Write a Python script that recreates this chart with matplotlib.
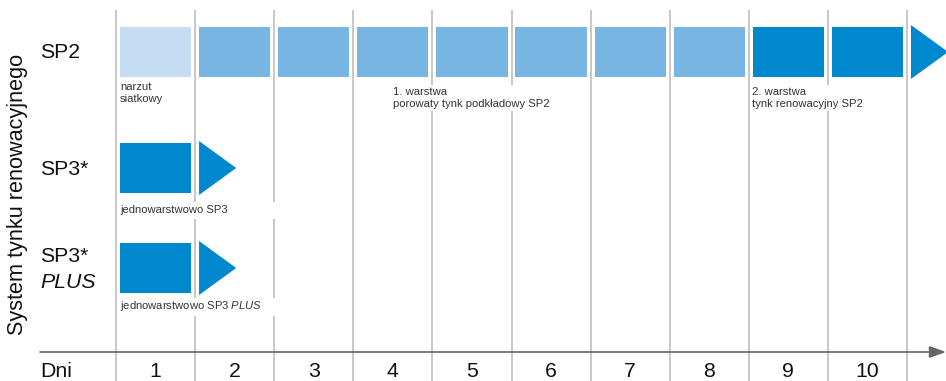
import matplotlib.pyplot as plt
from matplotlib.patches import Rectangle

plt.rcParams['font.family'] = ['Liberation Sans', 'DejaVu Sans']
plt.rcParams['mathtext.fontset'] = 'custom'
plt.rcParams['mathtext.rm'] = 'Liberation Sans'
plt.rcParams['mathtext.it'] = 'Liberation Sans:italic'

# data
days = [1, 2, 3, 4, 5, 6, 7, 8, 9, 10]
sp2_stage = ['narzut', 'w1', 'w1', 'w1', 'w1', 'w1', 'w1', 'w1', 'w2', 'w2']
sp3_days = [1]
sp3_plus_days = [1]
sp2_continues_after = 10
sp3_continues_after = 1
sp3_plus_continues_after = 1
ylabel = 'System tynku renowacyjnego'
xlabel = 'Dni'

stage_colors = {'narzut': '#C6DCF2', 'w1': '#79B5E2', 'w2': '#0088CF'}
dark = '#0088CF'

# pixel-based layout helpers
PX_DAY = 79.1
X0 = 116


def px(x):
    return (x - X0) / PX_DAY


fig = plt.figure(figsize=(9.46, 3.81), dpi=100)
ax = fig.add_axes([0, 0, 1, 1])
ax.set_xlim(px(0), px(946))
ax.set_ylim(381, 0)
ax.axis('off')

row_y = {'SP2': 52, 'SP3': 168, 'PLUS': 268}
bar_h = 50
half_arrow = 27

# vertical day grid
ax.vlines(range(0, 11), 10, 381, color='#BDBDBD', lw=1.2, zorder=1)


def draw_bars(day_list, colors, yc):
    lefts = [d - 1 + 0.05 for d in day_list]
    ax.barh([yc] * len(day_list), [0.9] * len(day_list), left=lefts,
            height=bar_h, color=colors, zorder=3)


def draw_arrow(after_day, yc):
    x0 = after_day + 0.05
    ax.fill([x0, x0, after_day + 0.52], [yc - half_arrow, yc + half_arrow, yc],
            color=dark, lw=0, zorder=3)


draw_bars(days, [stage_colors[s] for s in sp2_stage], row_y['SP2'])
draw_arrow(sp2_continues_after, row_y['SP2'])
draw_bars(sp3_days, [dark], row_y['SP3'])
draw_arrow(sp3_continues_after, row_y['SP3'])
draw_bars(sp3_plus_days, [dark], row_y['PLUS'])
draw_arrow(sp3_plus_continues_after, row_y['PLUS'])

# row labels
big = 15.3
ax.text(px(40), 58, 'SP2', fontsize=big, va='baseline', color='#111')
ax.text(px(40), 175, 'SP3*', fontsize=big, va='baseline', color='#111')
ax.text(px(40), 262, 'SP3*', fontsize=big, va='baseline', color='#111')
ax.text(px(40), 288, 'PLUS', fontsize=big, va='baseline', style='italic', color='#111')
ax.text(px(18), 194, ylabel, fontsize=15.6, rotation=90, ha='center', va='center', color='#111')

# small annotations
small = 8.1
box = dict(fc='white', ec='none', pad=1.2)
ax.text(px(120), 82, 'narzut\nsiatkowy', fontsize=small, va='top', color='#333',
        linespacing=1.25, bbox=box, zorder=2)
ax.text(px(393), 87, '1. warstwa\nporowaty tynk podkładowy SP2', fontsize=small,
        va='top', color='#333', linespacing=1.25, bbox=box, zorder=2)
ax.text(px(752), 87, '2. warstwa\ntynk renowacyjny SP2', fontsize=small,
        va='top', color='#333', linespacing=1.25, bbox=box, zorder=2)

ax.add_patch(Rectangle((px(118), 202), px(290) - px(118), 17, fc='white', ec='none', zorder=2))
ax.add_patch(Rectangle((px(118), 298), px(290) - px(118), 18, fc='white', ec='none', zorder=2))
ax.text(px(120), 213, 'jednowarstwowo SP3', fontsize=small, va='baseline', color='#333', zorder=3)
ax.text(px(120), 309, 'jednowarstwowo SP3 $PLUS$', fontsize=small, va='baseline',
        color='#333', zorder=3)

# bottom axis with arrow
ax.annotate('', xy=(px(946), 352), xytext=(px(40), 352), annotation_clip=False,
            arrowprops=dict(arrowstyle='-|>,head_length=1.0,head_width=0.36',
                            mutation_scale=10, color='#666', lw=1.2,
                            shrinkA=0, shrinkB=0), zorder=4)
ax.text(px(40), 377, xlabel, fontsize=big, va='baseline', color='#111')
for d in days:
    ax.text(d - 0.5, 377, str(d), fontsize=big, ha='center', va='baseline', color='#111')

fig.savefig('out.png', dpi=100)
